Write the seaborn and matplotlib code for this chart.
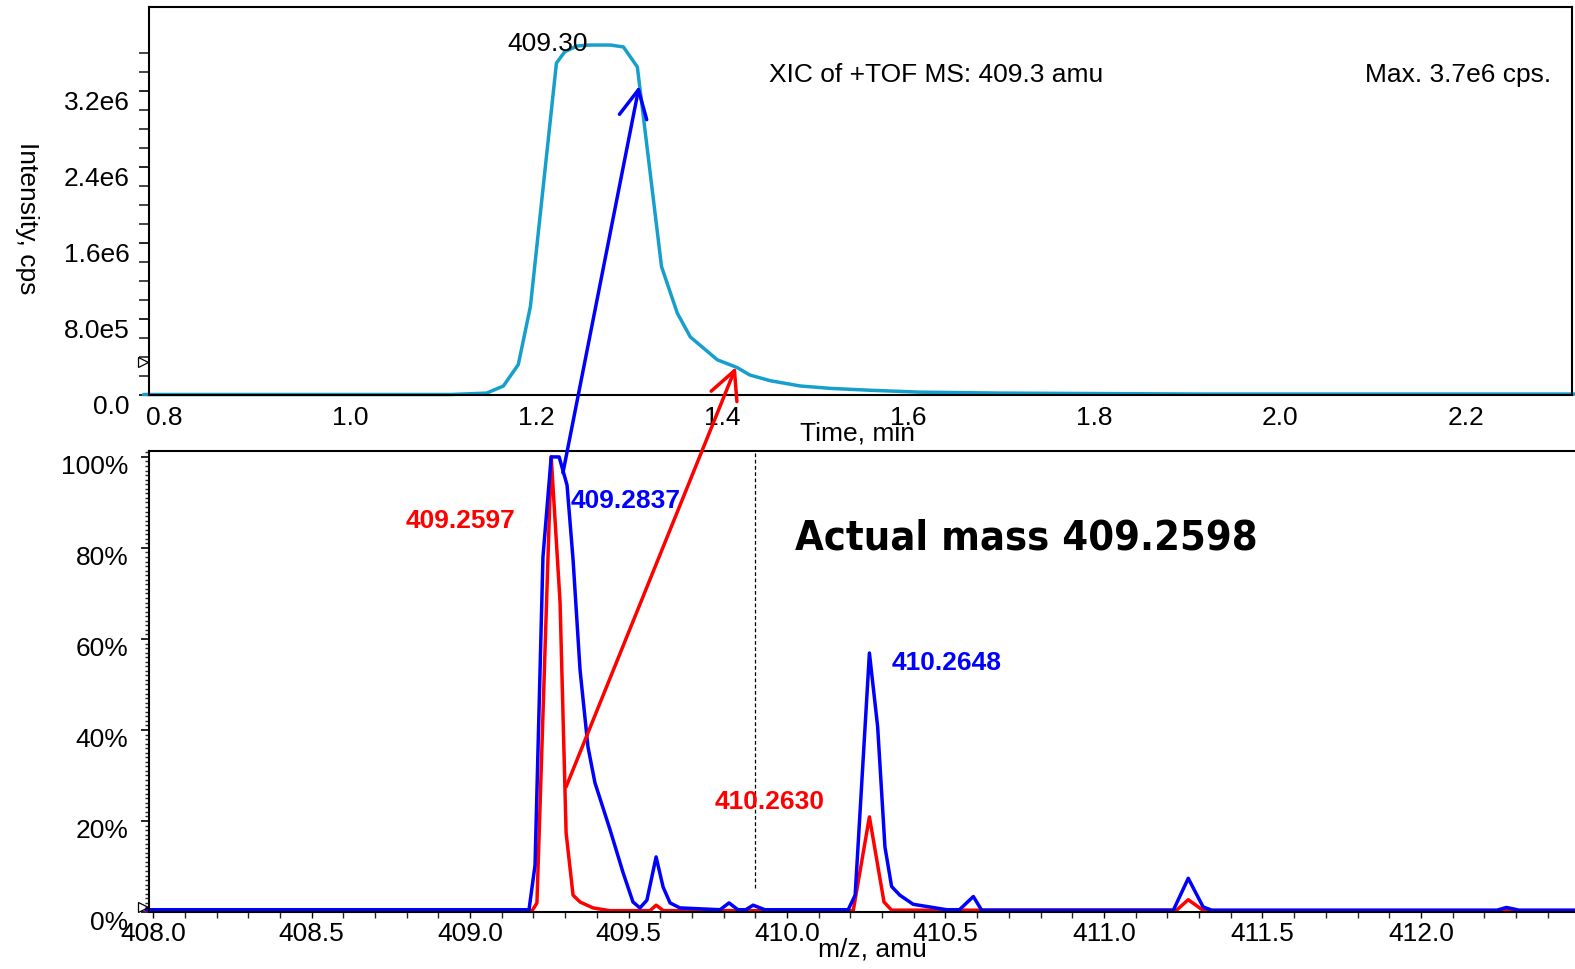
import matplotlib
matplotlib.use("Agg")
import os
import numpy as np
import pandas as pd
import seaborn as sns
import matplotlib.pyplot as plt
import matplotlib.font_manager as fm
from matplotlib.patches import ConnectionPatch
from matplotlib.transforms import ScaledTranslation
from matplotlib.ticker import MultipleLocator, FixedLocator

# ---------------- data ----------------
# XIC of +TOF MS 409.3 amu (time in min, intensity in cps)
xic_time = [0.778, 1.108, 1.147, 1.165, 1.181, 1.194, 1.222, 1.231, 1.244, 1.258,
            1.280, 1.294, 1.309, 1.335, 1.352, 1.366, 1.395, 1.416, 1.430, 1.452,
            1.484, 1.516, 1.559, 1.613, 1.699, 1.914, 2.317]
xic_intensity = [0.005e6, 0.005e6, 0.02e6, 0.095e6, 0.32e6, 0.93e6, 3.49e6, 3.61e6, 3.67e6, 3.68e6,
                 3.68e6, 3.66e6, 3.45e6, 1.35e6, 0.86e6, 0.61e6, 0.37e6, 0.29e6, 0.21e6, 0.15e6,
                 0.095e6, 0.07e6, 0.05e6, 0.03e6, 0.02e6, 0.01e6, 0.01e6]

# Spectrum, blue trace (relative intensity %)
blue_mz = [407.978, 409.186, 409.205, 409.230, 409.256, 409.281, 409.306, 409.325, 409.347, 409.372,
           409.394, 409.442, 409.483, 409.514, 409.536, 409.558, 409.587, 409.609, 409.631, 409.662,
           409.789, 409.817, 409.845, 409.870, 409.893, 409.930, 410.193, 410.215, 410.260, 410.286,
           410.309, 410.330, 410.356, 410.398, 410.504, 410.544, 410.588, 410.614, 411.219, 411.266,
           411.313, 411.340, 412.240, 412.270, 412.310, 412.495]
blue_pct = [0.5, 0.5, 10.3, 78.0, 100.0, 100.0, 93.8, 77.4, 53.2, 36.3,
            28.4, 18.0, 8.6, 2.2, 0.9, 2.6, 12.1, 5.5, 2.0, 0.9,
            0.5, 2.0, 0.5, 0.5, 1.5, 0.5, 0.5, 3.7, 56.9, 40.7,
            14.3, 5.6, 3.7, 1.7, 0.5, 0.5, 3.4, 0.4, 0.4, 7.4,
            1.1, 0.4, 0.4, 1.0, 0.4, 0.4]

# Spectrum, red trace (relative intensity %)
red_mz = [407.978, 409.196, 409.211, 409.256, 409.284, 409.303, 409.325, 409.347, 409.388, 409.440,
          409.568, 409.587, 409.610, 410.209, 410.260, 410.306, 410.330, 411.229, 411.266, 411.310,
          411.335, 412.495]
red_pct = [0.3, 0.3, 2.0, 100.0, 68.0, 17.4, 3.7, 2.2, 0.9, 0.3,
           0.3, 1.5, 0.3, 0.3, 20.9, 2.2, 0.4, 0.4, 2.7, 0.5,
           0.3, 0.3]

# ticks / labels
xic_xticks = [0.8, 1.0, 1.2, 1.4, 1.6, 1.8, 2.0, 2.2]
xic_xticklabels = ["0.8", "1.0", "1.2", "1.4", "1.6", "1.8", "2.0", "2.2"]
xic_yticks = [0, 0.8e6, 1.6e6, 2.4e6, 3.2e6]
xic_yticklabels = ["0.0", "8.0e5", "1.6e6", "2.4e6", "3.2e6"]
ms_xticks = [408.0, 408.5, 409.0, 409.5, 410.0, 410.5, 411.0, 411.5, 412.0]
ms_xticklabels = ["408.0", "408.5", "409.0", "409.5", "410.0", "410.5", "411.0", "411.5", "412.0"]
ms_yticks = [0, 20, 40, 60, 80, 100]
ms_yticklabels = ["0%", "20%", "40%", "60%", "80%", "100%"]

# annotations (data values)
xic_peak_label = "409.30"
xic_peak_pos = (1.256, 3.69e6)
cursor_mz = 409.899
cursor_pct = (5.3, 101.3)
blue_arrow = ((409.293, 96.5), (1.311, 3.25e6))   # (spectrum mz, %) -> (time, cps)
red_arrow = ((409.303, 27.5), (1.415, 0.294e6))

# ---------------- figure ----------------
sns.set_theme(style="white")
plt.rcParams["font.family"] = ["Liberation Sans", "DejaVu Sans"]
plt.rcParams["text.color"] = "black"
plt.rcParams["axes.labelcolor"] = "black"

W, H = 1575, 969
fig = plt.figure(figsize=(W / 100, H / 100), dpi=100)


def fx(px):
    return px / W


def fy(py):
    return 1 - py / H


CYAN = "#169fcc"
BLUE = "#0000ff"
RED = "#ff0000"
FS = 19
LW = 2.5

ax1 = fig.add_axes([fx(149), fy(395), (1572 - 149) / W, (395 - 7) / H])
ax2 = fig.add_axes([fx(149), fy(912), (1580 - 149) / W, (912 - 451) / H])

# top: XIC
xic_df = pd.DataFrame({"time": xic_time, "intensity": xic_intensity})
sns.lineplot(data=xic_df, x="time", y="intensity", ax=ax1, color=CYAN, lw=LW,
             estimator=None, sort=False, clip_on=False)
ax1.set_xlim(0.7839, 2.314)
ax1.set_ylim(0, 4.08e6)

# bottom: spectra
red_df = pd.DataFrame({"mz": red_mz, "pct": red_pct})
blue_df = pd.DataFrame({"mz": blue_mz, "pct": blue_pct})
sns.lineplot(data=red_df, x="mz", y="pct", ax=ax2, color=RED, lw=LW,
             estimator=None, sort=False, clip_on=False)
sns.lineplot(data=blue_df, x="mz", y="pct", ax=ax2, color=BLUE, lw=LW,
             estimator=None, sort=False, clip_on=False)
ax2.set_xlim(407.987, 412.502)
ax2.set_ylim(0, 101.3)
ax2.plot([cursor_mz, cursor_mz], list(cursor_pct), color="black", lw=0.9,
         ls=(0, (3, 2)))

# spines
for ax in (ax1, ax2):
    for s in ax.spines.values():
        s.set_color("black")
        s.set_linewidth(1.5)
    ax.grid(False)
    ax.set_xlabel("")
    ax.set_ylabel("")
ax2.spines["right"].set_visible(False)

# ticks top
ax1.set_xticks(xic_xticks, xic_xticklabels)
ax1.set_yticks(xic_yticks, xic_yticklabels)
ax1.yaxis.set_minor_locator(FixedLocator(np.arange(0.2e6, 3.7e6, 0.2e6)))
ax1.tick_params(axis="x", which="both", length=0, pad=8, labelsize=FS, colors="black")
ax1.tick_params(axis="y", which="major", left=True, length=7, width=1.2, pad=7,
                labelsize=FS, colors="black")
ax1.tick_params(axis="y", which="minor", left=True, length=7, width=1.2)

# ticks bottom
ax2.set_xticks(ms_xticks, ms_xticklabels)
ax2.xaxis.set_minor_locator(MultipleLocator(0.1))
ax2.tick_params(axis="x", which="major", bottom=True, length=4, width=1.0, pad=3,
                labelsize=FS, colors="black")
ax2.tick_params(axis="x", which="minor", bottom=True, length=4, width=1.0)
ax2.set_yticks(ms_yticks, ms_yticklabels)
ax2.yaxis.set_minor_locator(MultipleLocator(1))
ax2.tick_params(axis="y", which="major", left=True, length=6, width=1.2, pad=9,
                labelsize=FS, colors="black")
ax2.tick_params(axis="y", which="minor", left=True, length=3, width=1.0)

# y tick labels sit slightly below their ticks in the original
for ax, dy in ((ax1, 10), (ax2, 8)):
    for lbl in ax.get_yticklabels():
        lbl.set_transform(lbl.get_transform() +
                          ScaledTranslation(0, -dy / 100, fig.dpi_scale_trans))

# axis labels
fig.text(fx(858), fy(433), "Time, min", ha="center", va="center", fontsize=FS)
fig.text(fx(872), fy(950), "m/z, amu", ha="center", va="center", fontsize=FS)
fig.text(fx(27), fy(218), "Intensity, cps", ha="center", va="center",
         rotation=270, fontsize=FS)

# threshold markers
for py in (362, 907):
    fig.add_artist(plt.Line2D([fx(143)], [fy(py)], marker=">", markersize=7,
                              markerfacecolor="none", markeredgecolor="black",
                              markeredgewidth=0.9, transform=fig.transFigure))

# top annotations
ax1.text(xic_peak_pos[0], xic_peak_pos[1], xic_peak_label, ha="right", va="center",
         fontsize=FS, color="black")
fig.text(fx(769), fy(75), "XIC of +TOF MS: 409.3 amu", ha="left", va="center", fontsize=FS)
fig.text(fx(1551), fy(75), "Max. 3.7e6 cps.", ha="right", va="center", fontsize=FS)

# bottom annotations
BFS = 19
fig.text(fx(461), fy(521), "409.2597", ha="center", va="center", fontsize=BFS,
         fontweight="bold", color=RED)
fig.text(fx(571), fy(501), "409.2837", ha="left", va="center", fontsize=BFS,
         fontweight="bold", color=BLUE)
fig.text(fx(892), fy(663), "410.2648", ha="left", va="center", fontsize=BFS,
         fontweight="bold", color=BLUE)
fig.text(fx(715), fy(802), "410.2630", ha="left", va="center", fontsize=BFS,
         fontweight="bold", color=RED)


# condensed bold face for the headline, if one is installed
def condensed_bold_font():
    files = sorted({f.fname for f in fm.fontManager.ttflist})
    prefs = ["liberationsansnarrow-bold.", "dejavusanscondensed-bold.",
             "notosans-condensedbold.", "robotocondensed-bold.", "opensans-condbold",
             "opensanscondensed-bold"]
    low = {os.path.basename(f).lower(): f for f in files}
    for p in prefs:
        for name, f in low.items():
            if name.startswith(p):
                return fm.FontProperties(fname=f)
    for name, f in low.items():
        if (("condensed" in name or "narrow" in name) and "bold" in name
                and not any(k in name for k in ("italic", "oblique", "semibold",
                                                 "extrabold", "semicond", "extracond",
                                                 "ultra"))):
            return fm.FontProperties(fname=f)
    return fm.FontProperties(family=["Liberation Sans", "DejaVu Sans"], weight="bold")


hp = condensed_bold_font()
hp.set_size(38)
headline = fig.text(fx(795), fy(538), "Actual mass 409.2598", ha="left", va="center",
                    fontproperties=hp, color="black")
fig.canvas.draw()
wpx = headline.get_window_extent().width
hp2 = hp.copy()
hp2.set_size(min(40, 38 * 462 / wpx))
headline.set_fontproperties(hp2)

# arrows from spectrum peaks to XIC time points
for (start, end), col in ((blue_arrow, BLUE), (red_arrow, RED)):
    con = ConnectionPatch(xyA=start, coordsA=ax2.transData,
                          xyB=end, coordsB=ax1.transData,
                          arrowstyle="->,head_length=1.0,head_width=0.5",
                          mutation_scale=20, color=col, lw=LW)
    fig.add_artist(con)

fig.savefig("out.png", dpi=100)
